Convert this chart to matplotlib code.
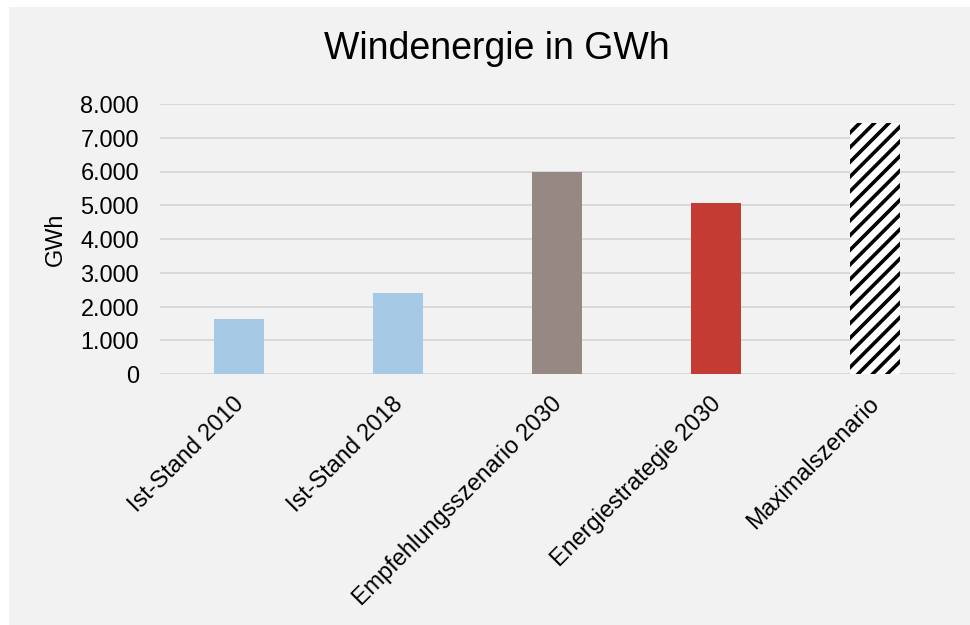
import matplotlib
matplotlib.use("Agg")
import matplotlib.pyplot as plt
from matplotlib.patches import Rectangle
from matplotlib.transforms import ScaledTranslation, blended_transform_factory

categories = ["Ist-Stand 2010", "Ist-Stand 2018", "Empfehlungsszenario 2030",
              "Energiestrategie 2030", "Maximalszenario"]
values = [1630, 2400, 6000, 5060, 7440]
colors = ["#A6CAE6", "#A6CAE6", "#968882", "#C43B34", "#FFFFFF"]
hatches = [None, None, None, None, "///"]
yticks = [0, 1000, 2000, 3000, 4000, 5000, 6000, 7000, 8000]
yticklabels = ["0", "1.000", "2.000", "3.000", "4.000", "5.000", "6.000", "7.000", "8.000"]

DPI = 132
W, H = 970, 625
def pt(px):
    return px * 72.0 / DPI

plt.rcParams['font.family'] = ['Liberation Sans', 'DejaVu Sans']
plt.rcParams['hatch.linewidth'] = pt(3.6)

fig = plt.figure(figsize=(W / DPI, H / DPI), dpi=DPI)
fig.patch.set_facecolor("white")
fig.patches.append(Rectangle((9 / W, 0), 1 - 9 / W, (H - 7) / H, transform=fig.transFigure,
                             facecolor="#F2F2F2", edgecolor="none", zorder=-10))

ax_w = 954.5 - 160
ax = fig.add_axes([160 / W, (H - 374) / H, ax_w / W, (374 - 104) / H])
ax.set_facecolor("none")

x = list(range(len(categories)))
for i, (v, c, h) in enumerate(zip(values, colors, hatches)):
    ax.bar(x[i], v, width=0.315, color=c, edgecolor="black" if h else c,
           linewidth=0, hatch=h, zorder=3)

ax.set_xlim(-0.5, len(categories) - 0.5)
ax.set_ylim(0, 8000)
ax.set_yticks(yticks)
ax.set_yticklabels(yticklabels, fontsize=pt(23.5))
ax.set_xticks(x)
ax.set_xticklabels([])
base = blended_transform_factory(ax.transData, ax.transAxes)
offset = ScaledTranslation(9 / DPI, -18 / DPI, fig.dpi_scale_trans)
for xi, name in zip(x, categories):
    ax.text(xi, 0, name, rotation=45, ha="right", va="top", fontsize=pt(23.5),
            transform=base + offset)
ax.tick_params(axis="both", length=0)
ax.tick_params(axis="y", pad=pt(21))
ax.grid(axis="y", color="#D9D9D9", linewidth=pt(2), zorder=0)
ax.set_axisbelow(True)
for s in ax.spines.values():
    s.set_visible(False)

ax.set_ylabel("GWh", fontsize=pt(23.5))
ax.yaxis.set_label_coords((67 - 160) / ax_w, 0.5)

fig.text(497 / W, 1 - 49 / H, "Windenergie in GWh", ha="center", va="center",
         fontsize=pt(37.5), color="black")

fig.savefig("out.png", dpi=DPI, facecolor=fig.get_facecolor())
